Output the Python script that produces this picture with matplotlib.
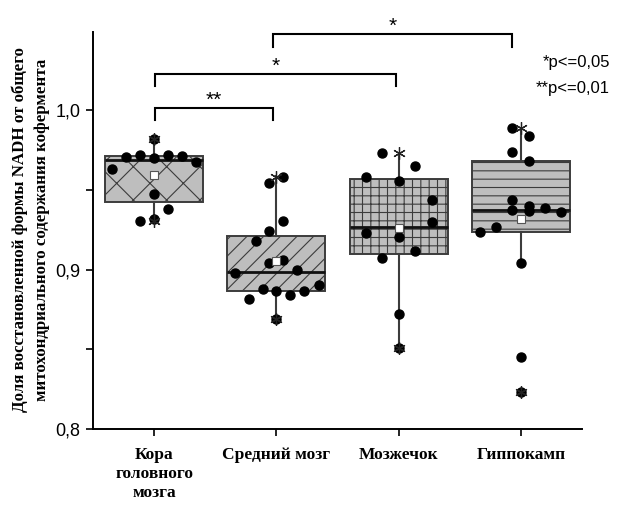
import matplotlib
matplotlib.use("Agg")
import matplotlib.pyplot as plt
import numpy as np

# ---------------- data ----------------
categories = ["Кора\nголовного\nмозга", "Средний мозг", "Мозжечок", "Гиппокамп"]

# individual measurements
vals_cortex = [0.9818, 0.9705, 0.9718, 0.9700, 0.9718, 0.9712, 0.9674, 0.9630,
               0.9473, 0.9380, 0.9304, 0.9317]
jit_cortex = [0.0, -0.23, -0.115, 0.0, 0.115, 0.23, 0.345, -0.345,
              0.0, 0.115, -0.115, 0.0]

vals_mid = [0.9580, 0.9542, 0.9304, 0.9241, 0.9179, 0.9040, 0.9060, 0.8997,
            0.8978, 0.8878, 0.8865, 0.8840, 0.8865, 0.8903, 0.8815, 0.8690]
jit_mid = [0.055, -0.06, 0.055, -0.06, -0.17, -0.06, 0.055, 0.17,
           -0.34, -0.11, 0.0, 0.11, 0.225, 0.35, -0.225, 0.0]

vals_cereb = [0.9730, 0.9650, 0.9580, 0.9555, 0.9436, 0.9298, 0.9229, 0.9204,
              0.9116, 0.9072, 0.8721, 0.8508]
jit_cereb = [-0.135, 0.135, -0.27, 0.0, 0.27, 0.27, -0.27, 0.0,
             0.135, -0.135, 0.0, 0.0]

vals_hippo = [0.9887, 0.9837, 0.9737, 0.9680, 0.9436, 0.9373, 0.9398, 0.9367,
              0.9386, 0.9360, 0.9266, 0.9235, 0.9041, 0.8451, 0.8232]
jit_hippo = [-0.07, 0.07, -0.07, 0.07, -0.07, -0.07, 0.07, 0.07,
             0.2, 0.33, -0.2, -0.335, 0.0, 0.0, 0.0]

# box statistics
q1 = [0.9423, 0.8865, 0.9097, 0.9235]
med = [0.9690, 0.8984, 0.9266, 0.9375]
q3 = [0.9712, 0.9210, 0.9567, 0.9680]
whislo = [0.9310, 0.8690, 0.8508, 0.9041]
whishi = [0.9818, 0.9586, 0.9730, 0.9887]
means = [0.9592, 0.9053, 0.9260, 0.9317]

# significance brackets: (x_start, x_end, label)
brackets = [(1.01, 1.97, "**"), (1.01, 2.98, "*"), (1.97, 3.93, "*")]
bracket_y = [1.0013, 1.0226, 1.0476]

hatches = ["x", "//", "++", "--"]

all_vals = [vals_cortex, vals_mid, vals_cereb, vals_hippo]
all_jit = [jit_cortex, jit_mid, jit_cereb, jit_hippo]

# ---------------- figure ----------------
plt.rcParams["hatch.linewidth"] = 0.8
fig = plt.figure(figsize=(6.18, 5.05), dpi=100)
ax = fig.add_axes([93 / 618, 1 - 429 / 505, (582 - 93) / 618, (429 - 32) / 505])

positions = np.arange(1, len(categories) + 1)
stats = []
for i in range(len(categories)):
    stats.append(dict(med=med[i], q1=q1[i], q3=q3[i], whislo=whislo[i],
                      whishi=whishi[i], mean=means[i], fliers=[]))

edge = "#3c3c3c"
bp = ax.bxp(stats, positions=positions, widths=0.8, patch_artist=True,
            showmeans=True, showcaps=False, showfliers=False,
            boxprops=dict(facecolor="#bebebe", edgecolor=edge, linewidth=1.4),
            whiskerprops=dict(color=edge, linewidth=1.5),
            medianprops=dict(color="#111111", linewidth=2.0),
            meanprops=dict(marker="s", markerfacecolor="white",
                           markeredgecolor="#555555", markersize=5.5,
                           markeredgewidth=0.8, zorder=6))
for patch, h in zip(bp["boxes"], hatches):
    patch.set_hatch(h)
    patch.set_zorder(2)

for i, (vals, jit) in enumerate(zip(all_vals, all_jit)):
    x = positions[i] + np.array(jit)
    ax.plot(x, vals, "o", color="black", markersize=6.5, zorder=5)
    # min / max markers
    ax.plot([positions[i], positions[i]], [min(vals), max(vals)],
            linestyle="none", marker=(6, 2, 0), markersize=9,
            markeredgewidth=0.9, color="#222222", zorder=5)

ax.set_xlim(0.5, 4.5)
ax.set_ylim(0.8, 1.049)
ax.set_xticks(positions)
ax.set_xticklabels(categories, fontfamily="Liberation Serif",
                   fontweight="bold", fontsize=12.5, linespacing=1.25)
ax.set_yticks([0.8, 0.9, 1.0])
ax.set_yticklabels(["0,8", "0,9", "1,0"], fontfamily="Liberation Sans",
                   fontsize=13)
ax.set_yticks([0.85, 0.95], minor=True)
ax.tick_params(axis="both", which="both", direction="out", length=5,
               width=1.2, color="black")
ax.tick_params(axis="x", pad=8)
ax.tick_params(axis="y", pad=4)
for s in ["top", "right"]:
    ax.spines[s].set_visible(False)
for s in ["left", "bottom"]:
    ax.spines[s].set_linewidth(1.4)

# significance brackets
leg = 0.0077
for (xa, xb, lab), yb in zip(brackets, bracket_y):
    ax.plot([xa, xa, xb, xb], [yb - leg, yb, yb, yb - leg], color="black",
            linewidth=1.5, clip_on=False, solid_joinstyle="miter")
    ax.text((xa + xb) / 2, yb + 0.0015, lab, ha="center", va="baseline",
            fontsize=15, fontfamily="Liberation Sans", clip_on=False)

fig.text(610 / 618, 1 - 63 / 505, "*p<=0,05", ha="right", va="center",
         fontsize=12, fontfamily="Liberation Sans")
fig.text(610 / 618, 1 - 89 / 505, "**p<=0,01", ha="right", va="center",
         fontsize=12, fontfamily="Liberation Sans")

fig.text(20 / 618, 1 - 230 / 505, "Доля восстановленной формы NADH от общего",
         rotation=90, ha="center", va="center", fontsize=12.2,
         fontfamily="Liberation Serif", fontweight="bold")
fig.text(42 / 618, 1 - 230 / 505, "митохондриального содержания кофермента",
         rotation=90, ha="center", va="center", fontsize=12.2,
         fontfamily="Liberation Serif", fontweight="bold")

fig.savefig("out.png", dpi=100)
